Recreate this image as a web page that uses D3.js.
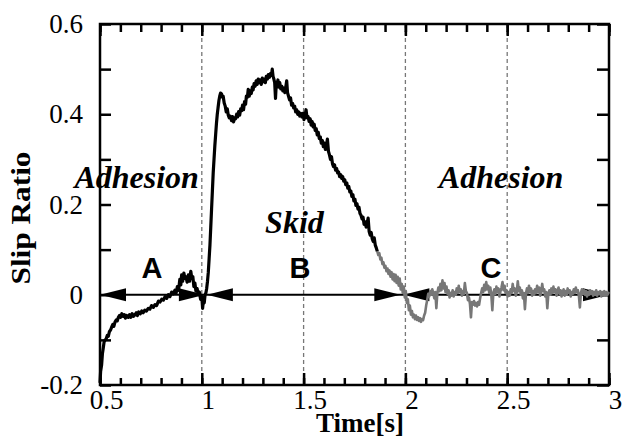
<!DOCTYPE html>
<html>
<head>
<meta charset="utf-8">
<script src="https://cdn.jsdelivr.net/npm/d3@7"></script>
<style>
  html, body { margin: 0; padding: 0; background: #fff; }
  svg { display: block; }
</style>
</head>
<body>
<svg id="chart" width="624" height="441"></svg>
<script>
/* Slip ratio vs time */

// [time s, slip ratio] -- black part of the trace
const skidTrace = [
  [0.500,-0.195],[0.503,-0.170],[0.508,-0.155],[0.512,-0.130],[0.516,-0.118],[0.520,-0.105],
  [0.525,-0.100],[0.530,-0.098],[0.536,-0.090],[0.541,-0.092],[0.546,-0.082],[0.552,-0.078],
  [0.557,-0.072],[0.563,-0.066],[0.568,-0.070],[0.574,-0.060],[0.580,-0.056],[0.585,-0.058],
  [0.590,-0.050],[0.596,-0.046],[0.601,-0.050],[0.607,-0.042],[0.613,-0.048],[0.619,-0.044],
  [0.625,-0.052],[0.631,-0.046],[0.639,-0.050],[0.645,-0.044],[0.651,-0.050],[0.658,-0.042],
  [0.664,-0.048],[0.672,-0.044],[0.678,-0.040],[0.684,-0.046],[0.690,-0.038],[0.698,-0.042],
  [0.705,-0.036],[0.712,-0.040],[0.720,-0.034],[0.728,-0.036],[0.737,-0.030],[0.745,-0.032],
  [0.753,-0.024],[0.762,-0.028],[0.770,-0.022],[0.778,-0.024],[0.787,-0.014],[0.795,-0.016],
  [0.803,-0.010],[0.811,-0.012],[0.820,-0.004],[0.828,-0.008],[0.836,0.000],[0.844,-0.004],
  [0.852,0.006],[0.860,0.002],[0.868,0.010],[0.874,0.004],[0.880,0.018],[0.886,0.010],
  [0.892,0.034],[0.897,0.022],[0.901,0.044],[0.906,0.030],[0.912,0.048],[0.917,0.036],
  [0.922,0.040],[0.928,0.028],[0.934,0.044],[0.940,0.030],[0.946,0.052],[0.951,0.036],
  [0.956,0.040],[0.961,0.018],[0.966,0.026],[0.971,0.008],[0.977,0.014],[0.983,0.000],
  [0.988,0.006],[0.994,-0.010],[1.000,-0.004],[1.004,-0.030],[1.008,-0.012],[1.012,-0.018],
  [1.016,0.000],[1.020,0.004],[1.024,0.014],[1.028,0.030],[1.032,0.050],[1.036,0.080],
  [1.040,0.110],[1.044,0.150],[1.048,0.190],[1.052,0.230],[1.056,0.270],[1.060,0.300],
  [1.064,0.330],[1.068,0.355],[1.072,0.380],[1.076,0.400],[1.080,0.415],[1.084,0.430],
  [1.088,0.440],[1.092,0.447],[1.097,0.445],[1.101,0.438],[1.105,0.440],[1.110,0.425],
  [1.115,0.418],[1.120,0.405],[1.125,0.412],[1.130,0.398],[1.135,0.392],[1.140,0.396],
  [1.146,0.386],[1.151,0.395],[1.156,0.383],[1.161,0.392],[1.166,0.390],[1.171,0.400],
  [1.176,0.394],[1.181,0.406],[1.186,0.398],[1.191,0.412],[1.196,0.408],[1.200,0.420],
  [1.205,0.410],[1.210,0.428],[1.215,0.422],[1.219,0.440],[1.224,0.438],[1.228,0.455],
  [1.233,0.440],[1.238,0.452],[1.243,0.446],[1.248,0.460],[1.252,0.454],[1.257,0.468],
  [1.262,0.462],[1.267,0.474],[1.272,0.466],[1.277,0.478],[1.282,0.470],[1.287,0.476],
  [1.292,0.466],[1.297,0.480],[1.302,0.472],[1.307,0.478],[1.312,0.470],[1.317,0.484],
  [1.322,0.478],[1.327,0.488],[1.332,0.482],[1.337,0.490],[1.342,0.486],[1.346,0.500],
  [1.350,0.484],[1.354,0.478],[1.358,0.470],[1.362,0.435],[1.366,0.470],[1.370,0.468],
  [1.374,0.476],[1.378,0.460],[1.383,0.470],[1.388,0.456],[1.393,0.462],[1.398,0.452],
  [1.403,0.458],[1.408,0.448],[1.413,0.462],[1.417,0.474],[1.421,0.448],[1.426,0.440],
  [1.431,0.432],[1.436,0.436],[1.441,0.420],[1.446,0.424],[1.451,0.414],[1.456,0.418],
  [1.461,0.405],[1.466,0.410],[1.471,0.400],[1.476,0.405],[1.481,0.396],[1.487,0.402],
  [1.492,0.394],[1.497,0.402],[1.502,0.388],[1.507,0.396],[1.512,0.410],[1.517,0.392],
  [1.522,0.395],[1.527,0.384],[1.532,0.390],[1.537,0.376],[1.542,0.384],[1.547,0.372],
  [1.552,0.378],[1.557,0.364],[1.562,0.368],[1.567,0.354],[1.572,0.360],[1.577,0.346],
  [1.582,0.350],[1.587,0.336],[1.592,0.342],[1.597,0.328],[1.602,0.336],[1.607,0.322],
  [1.612,0.330],[1.617,0.345],[1.622,0.318],[1.627,0.310],[1.632,0.300],[1.637,0.306],
  [1.642,0.290],[1.647,0.284],[1.652,0.288],[1.657,0.276],[1.662,0.280],[1.667,0.270],
  [1.672,0.272],[1.677,0.262],[1.682,0.266],[1.687,0.258],[1.692,0.262],[1.697,0.252],
  [1.702,0.255],[1.707,0.244],[1.712,0.248],[1.717,0.236],[1.722,0.240],[1.727,0.228],
  [1.732,0.230],[1.737,0.218],[1.742,0.222],[1.747,0.208],[1.752,0.212],[1.757,0.198],
  [1.762,0.202],[1.767,0.190],[1.772,0.194],[1.777,0.180],[1.782,0.176],[1.787,0.168],
  [1.792,0.172],[1.797,0.156],[1.802,0.162],[1.807,0.150],[1.812,0.158],[1.817,0.170],
  [1.822,0.140],[1.827,0.132],[1.832,0.138],[1.837,0.124],[1.842,0.118],[1.847,0.126],
  [1.852,0.110],[1.857,0.104],[1.862,0.096]
];

// [time s, slip ratio] -- grey part of the trace (recovery / adhesion)
const adhesionTrace = [
  [1.862,0.096],[1.867,0.088],[1.872,0.092],[1.877,0.078],[1.882,0.082],[1.887,0.068],
  [1.892,0.072],[1.897,0.060],[1.902,0.064],[1.907,0.052],[1.912,0.058],[1.917,0.046],
  [1.922,0.054],[1.927,0.040],[1.932,0.050],[1.937,0.034],[1.942,0.046],[1.947,0.030],
  [1.952,0.044],[1.957,0.026],[1.962,0.040],[1.967,0.020],[1.972,0.036],[1.977,0.012],
  [1.982,0.024],[1.987,0.004],[1.992,0.018],[1.997,-0.006],[2.002,0.008],[2.007,-0.018],
  [2.012,-0.010],[2.017,-0.034],[2.022,-0.024],[2.027,-0.044],[2.032,-0.036],[2.037,-0.050],
  [2.042,-0.044],[2.047,-0.054],[2.052,-0.046],[2.057,-0.056],[2.062,-0.050],[2.067,-0.058],
  [2.072,-0.052],[2.077,-0.060],[2.082,-0.054],[2.087,-0.056],[2.092,-0.046],[2.097,-0.040],
  [2.102,-0.024],[2.107,-0.012],[2.112,0.002],[2.117,-0.004],[2.122,0.008],[2.127,0.000],
  [2.132,0.012],[2.137,0.004],[2.142,-0.008],[2.147,0.006],[2.152,-0.030],[2.157,0.004],
  [2.162,0.016],[2.167,0.008],[2.172,0.024],[2.177,0.010],[2.182,0.032],[2.187,0.014],
  [2.192,0.026],[2.197,0.006],[2.202,0.018],[2.207,0.002],[2.212,0.010],[2.217,-0.006],
  [2.222,0.004],[2.227,-0.002],[2.232,0.010],[2.237,-0.004],[2.242,0.006],[2.247,0.000],
  [2.252,0.014],[2.257,0.004],[2.262,0.020],[2.267,0.006],[2.272,0.012],[2.277,-0.002],
  [2.282,0.008],[2.287,0.002],[2.292,0.026],[2.297,0.008],[2.302,0.004],[2.307,-0.012],
  [2.312,-0.006],[2.317,-0.020],[2.322,-0.050],[2.327,-0.016],[2.332,-0.022],[2.337,-0.014],
  [2.342,-0.024],[2.347,-0.018],[2.352,-0.026],[2.357,-0.016],[2.362,-0.022],[2.367,-0.008],
  [2.372,0.004],[2.377,0.014],[2.382,0.006],[2.387,0.022],[2.392,0.010],[2.397,0.028],
  [2.402,0.012],[2.407,0.020],[2.412,0.004],[2.417,0.016],[2.422,0.000],[2.427,-0.034],
  [2.432,0.004],[2.437,0.012],[2.442,0.002],[2.447,0.018],[2.452,0.006],[2.457,0.014],
  [2.462,-0.004],[2.467,0.008],[2.472,0.016],[2.477,0.028],[2.482,0.010],[2.487,0.020],
  [2.492,0.004],[2.497,0.010],[2.502,-0.004],[2.507,0.006],[2.512,-0.002],[2.517,0.012],
  [2.522,0.004],[2.527,0.024],[2.532,0.008],[2.537,0.014],[2.542,-0.002],[2.547,0.006],
  [2.552,0.030],[2.557,0.008],[2.562,0.016],[2.567,0.000],[2.572,0.010],[2.577,-0.008],
  [2.582,0.004],[2.587,-0.032],[2.592,0.002],[2.597,0.014],[2.602,0.004],[2.607,0.020],
  [2.612,0.006],[2.617,0.014],[2.622,-0.002],[2.627,0.008],[2.632,0.000],[2.637,0.012],
  [2.642,0.004],[2.647,0.020],[2.652,0.006],[2.657,0.016],[2.662,-0.002],[2.667,0.006],
  [2.672,0.024],[2.677,0.008],[2.682,0.012],[2.687,-0.004],[2.692,0.006],[2.697,-0.030],
  [2.702,0.002],[2.707,0.010],[2.712,0.000],[2.717,0.014],[2.722,0.004],[2.727,0.018],
  [2.732,0.006],[2.737,0.012],[2.742,-0.002],[2.747,0.008],[2.752,0.016],[2.757,0.002],
  [2.762,0.010],[2.767,-0.004],[2.772,0.006],[2.777,0.012],[2.782,-0.002],[2.787,0.008],
  [2.792,0.000],[2.797,0.014],[2.802,0.004],[2.807,0.010],[2.812,-0.004],[2.817,0.006],
  [2.822,0.002],[2.827,0.012],[2.832,0.004],[2.837,0.016],[2.842,0.006],[2.847,0.010],
  [2.852,-0.002],[2.857,-0.028],[2.862,0.004],[2.867,0.012],[2.872,0.002],[2.877,0.010],
  [2.882,0.000],[2.887,0.008],[2.892,-0.004],[2.897,0.006],[2.902,0.000],[2.907,0.010],
  [2.912,0.002],[2.917,0.008],[2.922,-0.002],[2.927,0.006],[2.932,0.000],[2.937,0.010],
  [2.942,-0.002],[2.947,0.006],[2.952,0.002],[2.957,0.008],[2.962,-0.004],[2.967,0.006],
  [2.972,0.000],[2.977,0.008],[2.982,-0.002],[2.987,0.006],[2.992,0.000],[2.997,0.004],
  [3.000,0.002]
];

// phase spans drawn as double arrows on the zero line
const phaseNames = ["A", "B", "C"];
const phaseStart = [0.5, 1.025, 1.99];
const phaseEnd = [1.015, 1.975, 3.0];
const phaseLabelT = [0.755, 1.482, 2.42];

// region captions
const regionNames = ["Adhesion", "Skid", "Adhesion"];
const regionT = [0.68, 1.455, 2.47];
const regionV = [0.236, 0.137, 0.236];

const xMajor = [0.5, 1, 1.5, 2, 2.5, 3];
const xMinor = d3.range(5, 31).map(d => d / 10);
const yTicks = d3.range(-2, 7).map(d => d / 10);
const yLabelled = [-0.2, 0, 0.2, 0.4, 0.6];
const gridT = [1, 1.5, 2, 2.5];

(function() {
  const svg = d3.select("#chart");
  const margin = { top: 24, right: 15, bottom: 56, left: 100 };
  const W = 624 - margin.left - margin.right;
  const H = 441 - margin.top - margin.bottom;
  const serif = '"Liberation Serif", "Times New Roman", serif';

  const x = d3.scaleLinear().domain([0.5, 3]).range([0, W]);
  const y = d3.scaleLinear().domain([-0.2, 0.6]).range([H, 0]);

  const g = svg.append("g").attr("transform", `translate(${margin.left},${margin.top})`);

  // dashed vertical guides
  g.selectAll(".grid")
    .data(gridT)
    .enter()
    .append("line")
    .attr("x1", d => x(d)).attr("x2", d => x(d))
    .attr("y1", 0).attr("y2", H)
    .attr("stroke", "#777")
    .attr("stroke-width", 1.3)
    .attr("stroke-dasharray", "4,3");

  const fmt = d => (Math.abs(d) < 1e-9 ? "0" : String(+d.toFixed(1)));

  function styleAxis(sel) {
    sel.select(".domain").remove();
    sel.selectAll(".tick line").attr("stroke", "#000").attr("stroke-width", 2.5);
    sel.selectAll("text")
      .attr("fill", "#000")
      .style("font-family", serif)
      .style("font-size", "27px");
  }

  // bottom: minor then major ticks
  g.append("g").attr("transform", `translate(0,${H})`)
    .call(d3.axisBottom(x).tickValues(xMinor).tickSize(-7).tickFormat(""))
    .call(styleAxis);
  g.append("g").attr("transform", `translate(0,${H})`)
    .call(d3.axisBottom(x).tickValues(xMajor).tickSize(-12).tickPadding(5).tickFormat(fmt))
    .call(styleAxis)
    .selectAll("text").attr("dx", 6);

  // top
  g.append("g")
    .call(d3.axisTop(x).tickValues(xMinor).tickSize(-8).tickFormat(""))
    .call(styleAxis);
  g.append("g")
    .call(d3.axisTop(x).tickValues(xMajor).tickSize(-12).tickFormat(""))
    .call(styleAxis);

  // left with labels on every 0.2
  g.append("g")
    .call(d3.axisLeft(y).tickValues(yTicks).tickSize(-11).tickPadding(17)
      .tickFormat(d => (yLabelled.some(v => Math.abs(v - d) < 1e-9) ? fmt(d) : "")))
    .call(styleAxis);

  // right
  g.append("g").attr("transform", `translate(${W},0)`)
    .call(d3.axisRight(y).tickValues(yTicks).tickSize(-12).tickFormat(""))
    .call(styleAxis);

  // frame
  g.append("rect")
    .attr("width", W).attr("height", H)
    .attr("fill", "none")
    .attr("stroke", "#000")
    .attr("stroke-width", 2.5);

  // zero line with phase arrows
  g.append("line")
    .attr("x1", x(0.5)).attr("x2", x(3))
    .attr("y1", y(0)).attr("y2", y(0))
    .attr("stroke", "#000").attr("stroke-width", 2);

  const headLen = 26, headHalf = 6.5;
  const heads = [];
  phaseStart.forEach((s, i) => {
    heads.push({ tip: x(s), dir: -1 });
    heads.push({ tip: x(phaseEnd[i]), dir: 1 });
  });
  g.selectAll(".head")
    .data(heads)
    .enter()
    .append("path")
    .attr("d", d => {
      const y0 = y(0);
      const b = d.tip - d.dir * headLen;
      return `M${d.tip},${y0}L${b},${y0 - headHalf}L${b},${y0 + headHalf}Z`;
    })
    .attr("fill", "#000");

  // traces
  const line = d3.line().x(d => x(d[0])).y(d => y(d[1]));
  g.append("path")
    .datum(adhesionTrace)
    .attr("d", line)
    .attr("fill", "none")
    .attr("stroke", "#777")
    .attr("stroke-width", 2.6)
    .attr("stroke-linejoin", "round");
  g.append("path")
    .datum(skidTrace)
    .attr("d", line)
    .attr("fill", "none")
    .attr("stroke", "#000")
    .attr("stroke-width", 3.2)
    .attr("stroke-linejoin", "round");

  // phase letters
  g.selectAll(".phase")
    .data(phaseNames)
    .enter()
    .append("text")
    .attr("x", (d, i) => x(phaseLabelT[i]))
    .attr("y", y(0) - 17)
    .attr("text-anchor", "middle")
    .style("font-family", '"Liberation Sans", Arial, sans-serif')
    .style("font-weight", "bold")
    .style("font-size", "29px")
    .text(d => d);

  // region captions
  g.selectAll(".region")
    .data(regionNames)
    .enter()
    .append("text")
    .attr("x", (d, i) => x(regionT[i]))
    .attr("y", (d, i) => y(regionV[i]))
    .attr("text-anchor", "middle")
    .style("font-family", serif)
    .style("font-weight", "bold")
    .style("font-style", "italic")
    .style("font-size", "32px")
    .text(d => d);

  // axis titles
  svg.append("text")
    .attr("x", 360)
    .attr("y", 432)
    .attr("text-anchor", "middle")
    .style("font-family", serif)
    .style("font-weight", "bold")
    .style("font-size", "27px")
    .text("Time[s]");

  svg.append("text")
    .attr("transform", "translate(30,218) rotate(-90)")
    .attr("text-anchor", "middle")
    .attr("textLength", 133)
    .attr("lengthAdjust", "spacingAndGlyphs")
    .style("font-family", serif)
    .style("font-weight", "bold")
    .style("font-size", "27px")
    .text("Slip Ratio");
})();
</script>
</body>
</html>
